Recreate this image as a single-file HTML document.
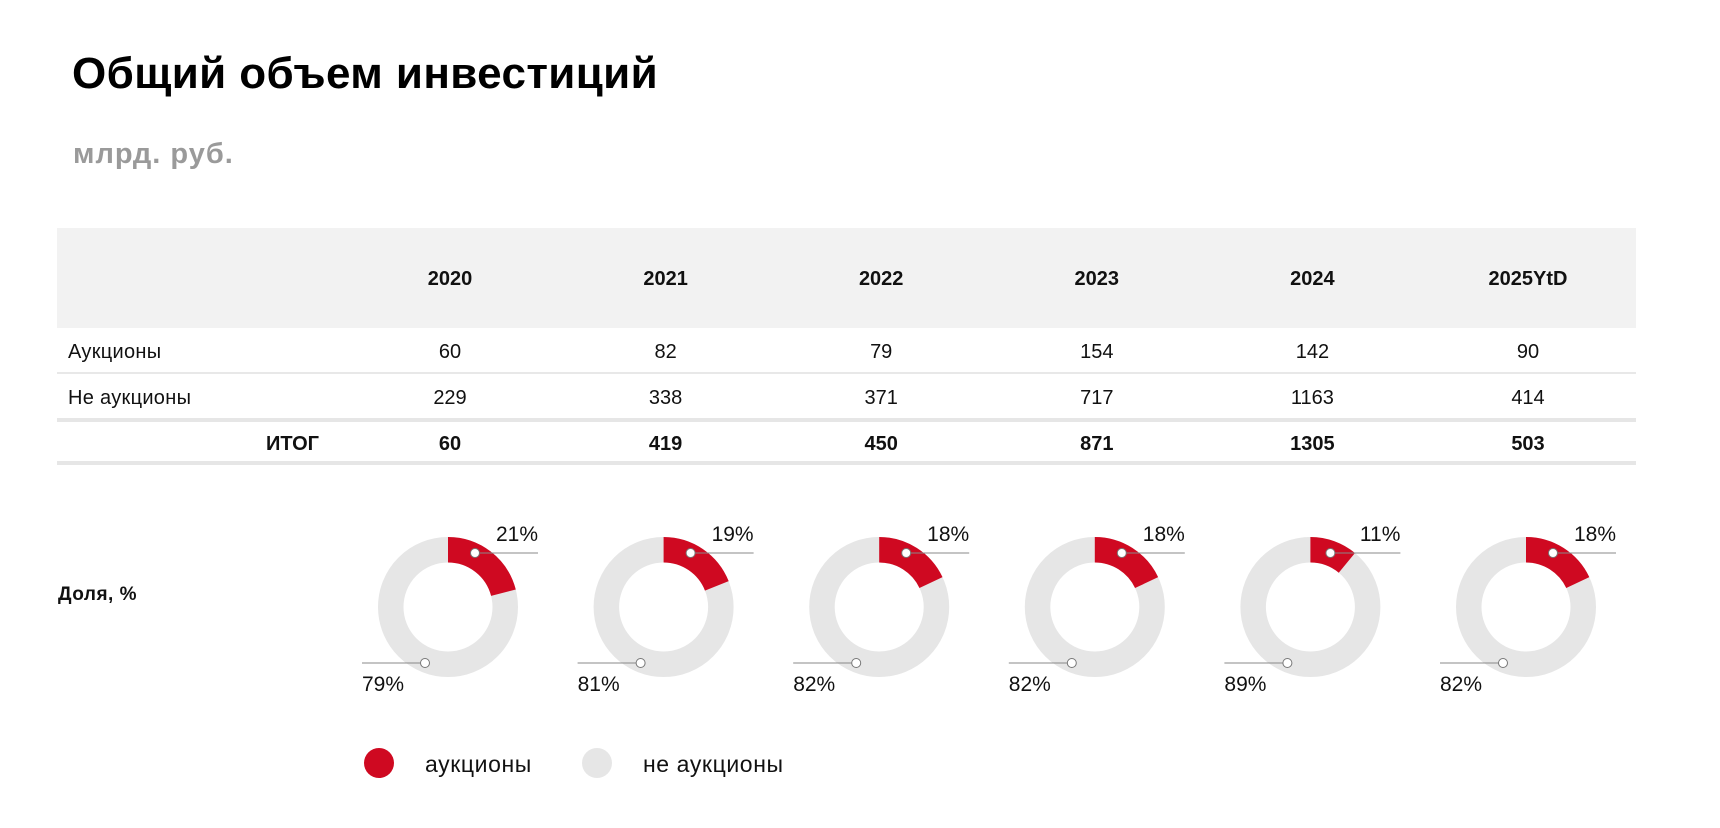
<!DOCTYPE html>
<html><head><meta charset="utf-8"><style>
body{margin:0;width:1720px;height:828px;background:#fff;font-family:"Liberation Sans",sans-serif;position:relative;overflow:hidden;color:#111}
.a{position:absolute;white-space:nowrap}
.c{transform:translateX(-50%)}
</style></head><body>
<div class="a" style="left:72px;top:49px;font-size:44px;font-weight:bold;color:#000;letter-spacing:0.4px">Общий объем инвестиций</div>
<div class="a" style="left:73px;top:138px;font-size:29px;font-weight:bold;color:#9a9a9a;letter-spacing:1px">млрд. руб.</div>
<div class="a" style="left:57px;top:228px;width:1579px;height:100px;background:#f2f2f2"></div>
<div class="a" style="left:57px;top:372px;width:1579px;height:2px;background:#e8e8e8"></div>
<div class="a" style="left:57px;top:418px;width:1579px;height:4px;background:#e6e6e6"></div>
<div class="a" style="left:57px;top:461px;width:1579px;height:4px;background:#e6e6e6"></div>
<div class="a" style="left:68px;top:341px;font-size:20px;letter-spacing:0.3px">Аукционы</div>
<div class="a" style="left:68px;top:387px;font-size:20px;letter-spacing:0.3px">Не аукционы</div>
<div class="a" style="left:266px;top:433px;font-size:20px;font-weight:bold">ИТОГ</div>
<div class="a" style="left:58px;top:584px;font-size:19px;font-weight:bold;letter-spacing:0.5px">Доля, %</div>
<div id="cols"></div>
<svg class="a" style="left:0;top:0" width="1720" height="828" id="s"></svg>
<script>
var yrs=["2020","2021","2022","2023","2024","2025YtD"],r1=[60,82,79,154,142,90],r2=[229,338,371,717,1163,414],r3=[60,419,450,871,1305,503],p=[21,19,18,18,11,18];
var h="",s="";
for(var i=0;i<6;i++){var x=450+215.6*i;
h+='<div class="a c" style="left:'+x+'px;top:268px;font-size:20px;font-weight:bold">'+yrs[i]+'</div>';
h+='<div class="a c" style="left:'+x+'px;top:341px;font-size:20px">'+r1[i]+'</div>';
h+='<div class="a c" style="left:'+x+'px;top:387px;font-size:20px">'+r2[i]+'</div>';
h+='<div class="a c" style="left:'+x+'px;top:433px;font-size:20px;font-weight:bold">'+r3[i]+'</div>';
var cx=448+215.6*i,cy=607;
s+='<circle cx="'+cx+'" cy="'+cy+'" r="57.25" fill="none" stroke="#e6e6e6" stroke-width="25.5"/>';
s+='<circle cx="'+cx+'" cy="'+cy+'" r="57.25" fill="none" stroke="#cf0921" stroke-width="25.5" pathLength="100" stroke-dasharray="'+p[i]+' 200" transform="rotate(-90 '+cx+' '+cy+')"/>';
var dx=p[i]<15?20:27;
s+='<line x1="'+(cx+dx)+'" y1="553" x2="'+(cx+90)+'" y2="553" stroke="#888" stroke-width="1"/>';
s+='<circle cx="'+(cx+dx)+'" cy="553" r="4.5" fill="#fff" stroke="#777" stroke-width="1"/>';
s+='<line x1="'+(cx-86)+'" y1="663" x2="'+(cx-23)+'" y2="663" stroke="#888" stroke-width="1"/>';
s+='<circle cx="'+(cx-23)+'" cy="663" r="4.5" fill="#fff" stroke="#777" stroke-width="1"/>';
s+='<text x="'+(cx+90)+'" y="541" text-anchor="end" font-size="21" font-family="Liberation Sans" fill="#111">'+p[i]+'%</text>';
s+='<text x="'+(cx-86)+'" y="691" font-size="21" font-family="Liberation Sans" fill="#111">'+(100-p[i])+'%</text>';
}
s+='<circle cx="379" cy="763" r="15" fill="#cf0921"/><circle cx="597" cy="763" r="15" fill="#e6e6e6"/>';
s+='<text x="425" y="772" font-size="23" font-family="Liberation Sans" fill="#111" letter-spacing="0.6">аукционы</text>';
s+='<text x="643" y="772" font-size="23" font-family="Liberation Sans" fill="#111" letter-spacing="0.6">не аукционы</text>';
document.getElementById("cols").innerHTML=h;document.getElementById("s").innerHTML=s;
</script>
</body></html>
